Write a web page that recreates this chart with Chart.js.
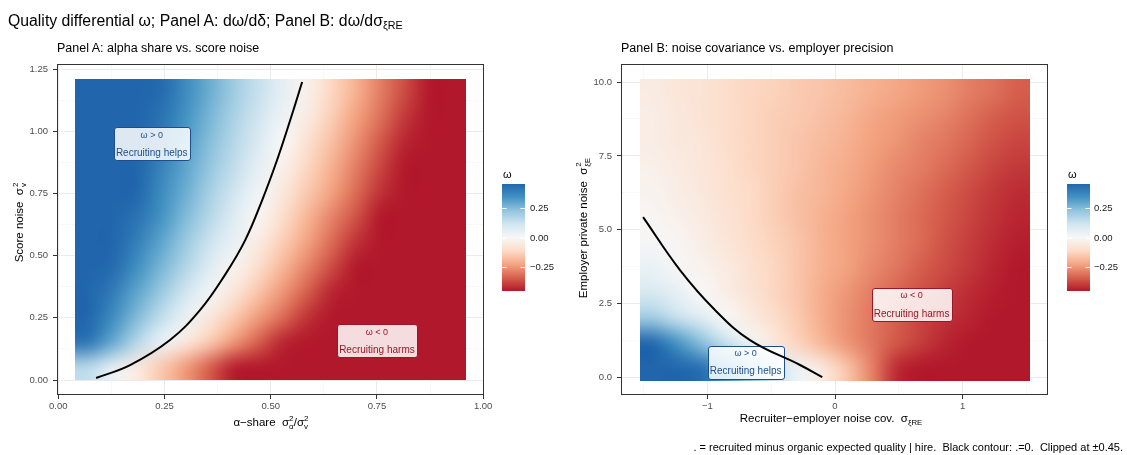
<!DOCTYPE html>
<html>
<head>
<meta charset="utf-8">
<script src="https://cdn.jsdelivr.net/npm/chart.js@4.4.1/dist/chart.umd.min.js"></script>
<style>
  body { margin: 0; background: #fff; font-family: "Liberation Sans", Arial, sans-serif; }
  #page { position: relative; width: 1127px; height: 455px; overflow: hidden; background: #fff; }
  canvas { position: absolute; top: 0; }
  .txt { position: absolute; white-space: pre; color: #000; line-height: 1; }
  .sb { font-size: 0.68em; position: relative; top: 0.35em; }
  .ss { display: inline-block; font-size: 0.7em; line-height: 0.95em; vertical-align: -0.35em; }
  .ss span { display: block; }
  .xt { transform: translateX(-50%); font-size: 11.5px; }
</style>
</head>
<body>
<div id="page">
  <canvas id="panelA" width="560" height="455" style="left:0"></canvas>
  <canvas id="panelB" width="567" height="455" style="left:560px"></canvas>

  <div class="txt" style="left:8px; top:12.5px; font-size:15.8px;">Quality differential ω; Panel A: dω/dδ; Panel B: dω/dσ<span class="sb">ξRE</span></div>
  <div class="txt" style="left:57px; top:42px; font-size:12.5px;">Panel A: alpha share vs. score noise</div>
  <div class="txt" style="left:621px; top:42px; font-size:12.5px;">Panel B: noise covariance vs. employer precision</div>

  <div class="txt xt" style="left:271px; top:415px;">α−share  σ<span class="ss"><span>2</span><span>α</span></span>/σ<span class="ss"><span>2</span><span>v</span></span></div>
  <div class="txt xt" style="left:831px; top:413px;">Recruiter−employer noise cov.  σ<span class="sb">ξRE</span></div>

  <div class="txt" style="right:4px; top:441.7px; font-size:11px;">. = recruited minus organic expected quality | hire.  Black contour: .=0.  Clipped at ±0.45.</div>
</div>

<script>
// ---- data ----

// Panel A grid: alpha share (x) and score noise (y), cell centres
const alphaShare = [0.069, 0.126, 0.184, 0.241, 0.299, 0.356, 0.414, 0.471,
                    0.529, 0.586, 0.644, 0.701, 0.759, 0.816, 0.874, 0.931];
const scoreNoise = [0.050, 0.151, 0.252, 0.353, 0.454, 0.555,
                    0.655, 0.756, 0.857, 0.958, 1.059, 1.160];
// omega, one row per scoreNoise value (bottom row first)
const omegaA = [
  [0.15, 0.05, -0.05, -0.15, -0.24, -0.34, -0.44, -0.45, -0.45, -0.45, -0.45, -0.45, -0.45, -0.45, -0.45, -0.45],
  [0.41, 0.29, 0.16, 0.04, -0.06, -0.15, -0.25, -0.34, -0.43, -0.45, -0.45, -0.45, -0.45, -0.45, -0.45, -0.45],
  [0.45, 0.36, 0.25, 0.14, 0.04, -0.06, -0.15, -0.24, -0.32, -0.41, -0.45, -0.45, -0.45, -0.45, -0.45, -0.45],
  [0.45, 0.40, 0.30, 0.21, 0.11, 0.02, -0.07, -0.16, -0.25, -0.34, -0.43, -0.45, -0.45, -0.45, -0.45, -0.45],
  [0.45, 0.44, 0.35, 0.26, 0.17, 0.07, -0.02, -0.10, -0.19, -0.28, -0.37, -0.45, -0.45, -0.45, -0.45, -0.45],
  [0.45, 0.45, 0.39, 0.30, 0.21, 0.12, 0.04, -0.05, -0.14, -0.23, -0.32, -0.41, -0.45, -0.45, -0.45, -0.45],
  [0.45, 0.45, 0.42, 0.34, 0.25, 0.16, 0.07, -0.01, -0.10, -0.19, -0.28, -0.36, -0.45, -0.45, -0.45, -0.45],
  [0.45, 0.45, 0.45, 0.36, 0.28, 0.19, 0.11, 0.02, -0.06, -0.15, -0.23, -0.32, -0.41, -0.45, -0.45, -0.45],
  [0.45, 0.45, 0.45, 0.38, 0.30, 0.22, 0.14, 0.05, -0.03, -0.12, -0.20, -0.29, -0.38, -0.45, -0.45, -0.45],
  [0.45, 0.45, 0.45, 0.41, 0.32, 0.24, 0.16, 0.08, 0.00, -0.09, -0.17, -0.26, -0.35, -0.43, -0.45, -0.45],
  [0.45, 0.45, 0.45, 0.42, 0.34, 0.26, 0.18, 0.11, 0.03, -0.05, -0.14, -0.23, -0.31, -0.40, -0.45, -0.45],
  [0.45, 0.45, 0.45, 0.44, 0.36, 0.28, 0.20, 0.13, 0.05, -0.03, -0.12, -0.20, -0.29, -0.37, -0.45, -0.45]
];
// omega = 0 contour, panel A
const contourAx = [0.089, 0.169, 0.263, 0.334, 0.392, 0.440, 0.480, 0.515, 0.546, 0.574];
const contourAy = [0.008, 0.060, 0.161, 0.282, 0.422, 0.563, 0.724, 0.885, 1.046, 1.199];

// Panel B grid: recruiter-employer covariance (x) and employer noise (y)
const noiseCov = [-1.434, -1.243, -1.052, -0.861, -0.669, -0.478, -0.287, -0.096,
                  0.096, 0.287, 0.478, 0.669, 0.861, 1.052, 1.243, 1.434];
const employerNoise = [0.325, 1.175, 2.025, 2.875, 3.725, 4.575,
                       5.425, 6.275, 7.125, 7.975, 8.825, 9.675];
const omegaB = [
  [0.45, 0.45, 0.43, 0.33, 0.23, 0.13, 0.03, -0.06, -0.16, -0.28, -0.42, -0.45, -0.45, -0.45, -0.45, -0.45],
  [0.45, 0.34, 0.24, 0.13, 0.03, -0.06, -0.13, -0.19, -0.25, -0.30, -0.35, -0.39, -0.43, -0.45, -0.45, -0.45],
  [0.20, 0.13, 0.07, 0.00, -0.05, -0.10, -0.15, -0.21, -0.26, -0.30, -0.34, -0.38, -0.41, -0.43, -0.45, -0.45],
  [0.09, 0.05, 0.00, -0.04, -0.08, -0.12, -0.16, -0.21, -0.25, -0.29, -0.33, -0.36, -0.39, -0.42, -0.44, -0.45],
  [0.04, 0.01, -0.02, -0.05, -0.09, -0.12, -0.16, -0.20, -0.23, -0.27, -0.30, -0.34, -0.37, -0.40, -0.43, -0.45],
  [0.01, -0.01, -0.04, -0.07, -0.10, -0.13, -0.16, -0.20, -0.23, -0.26, -0.29, -0.32, -0.36, -0.39, -0.42, -0.44],
  [-0.01, -0.03, -0.05, -0.08, -0.11, -0.14, -0.17, -0.20, -0.23, -0.26, -0.29, -0.32, -0.35, -0.38, -0.41, -0.43],
  [-0.02, -0.04, -0.06, -0.09, -0.11, -0.14, -0.17, -0.19, -0.22, -0.25, -0.28, -0.31, -0.34, -0.37, -0.40, -0.42],
  [-0.03, -0.05, -0.07, -0.09, -0.12, -0.14, -0.16, -0.19, -0.21, -0.24, -0.27, -0.29, -0.32, -0.35, -0.38, -0.40],
  [-0.04, -0.06, -0.07, -0.10, -0.12, -0.14, -0.16, -0.18, -0.20, -0.23, -0.25, -0.28, -0.30, -0.33, -0.36, -0.38],
  [-0.04, -0.06, -0.08, -0.10, -0.12, -0.14, -0.15, -0.17, -0.19, -0.22, -0.24, -0.26, -0.28, -0.31, -0.34, -0.36],
  [-0.05, -0.07, -0.08, -0.10, -0.12, -0.13, -0.15, -0.16, -0.18, -0.20, -0.22, -0.24, -0.26, -0.29, -0.31, -0.34]
];
const contourBx = [-1.503, -1.214, -0.940, -0.666, -0.274, -0.100];
const contourBy = [5.43, 3.64, 2.29, 1.27, 0.43, 0.02];

// axis ticks
const alphaMajor = [0, 0.25, 0.5, 0.75, 1];
const alphaLabels = ['0.00', '0.25', '0.50', '0.75', '1.00'];
const alphaMinor = [0.125, 0.375, 0.625, 0.875];
const scoreMajor = [0, 0.25, 0.5, 0.75, 1, 1.25];
const scoreLabels = ['0.00', '0.25', '0.50', '0.75', '1.00', '1.25'];
const scoreMinor = [0.125, 0.375, 0.625, 0.875, 1.125];
const covMajor = [-1, 0, 1];
const covLabels = ['\u22121', '0', '1'];
const covMinor = [-1.5, -0.5, 0.5, 1.5];
const empMajor = [0, 2.5, 5, 7.5, 10];
const empLabels = ['0.0', '2.5', '5.0', '7.5', '10.0'];
const empMinor = [1.25, 3.75, 6.25, 8.75];

// colour bar
const barTicks = [0.25, 0, -0.25];
const barLabels = ['0.25', '0.00', '\u22120.25'];
const omegaLimit = 0.45;

// region labels
const labelsA = [
  { x: 0.22, y: 0.95, top: 'ω > 0', bottom: 'Recruiting helps', color: '#1d4f8f' },
  { x: 0.75, y: 0.157, top: 'ω < 0', bottom: 'Recruiting harms', color: '#9b1626' }
];
const labelsB = [
  { x: 0.60, y: 2.48, top: 'ω < 0', bottom: 'Recruiting harms', color: '#9b1626' },
  { x: -0.70, y: 0.53, top: 'ω > 0', bottom: 'Recruiting helps', color: '#1d4f8f' }
];

// RdBu
const paletteValues = [-0.45, -0.3375, -0.225, -0.1125, 0, 0.1125, 0.225, 0.3375, 0.45];
const paletteColors = ['#b2182b', '#d6604d', '#f4a582', '#fddbc7', '#f7f7f7',
                       '#d1e5f0', '#92c5de', '#4393c3', '#2166ac'];

const FONT = '"Liberation Sans", Arial, sans-serif';
Chart.defaults.font.family = FONT;

function hexToRgb(h) {
  return [parseInt(h.slice(1, 3), 16), parseInt(h.slice(3, 5), 16), parseInt(h.slice(5, 7), 16)];
}
const paletteRgb = paletteColors.map(hexToRgb);

function omegaColor(v) {
  v = Math.max(-omegaLimit, Math.min(omegaLimit, v));
  for (let i = 0; i < paletteValues.length - 1; i++) {
    if (v <= paletteValues[i + 1]) {
      let t = (v - paletteValues[i]) / (paletteValues[i + 1] - paletteValues[i]);
      let a = paletteRgb[i], b = paletteRgb[i + 1];
      return [0, 1, 2].map(k => Math.round(a[k] + (b[k] - a[k]) * t));
    }
  }
  return paletteRgb[paletteRgb.length - 1];
}

function heatmapPlugin(xs, ys, z, labels) {
  return {
    id: 'heatmap',
    beforeDatasetsDraw: function(chart) {
      let ctx = chart.ctx;
      let sx = chart.scales.x, sy = chart.scales.y;
      let nx = xs.length, ny = ys.length;

      let off = document.createElement('canvas');
      off.width = nx;
      off.height = ny;
      let octx = off.getContext('2d');
      let img = octx.createImageData(nx, ny);
      for (let j = 0; j < ny; j++) {
        for (let i = 0; i < nx; i++) {
          let c = omegaColor(z[j][i]);
          let p = ((ny - 1 - j) * nx + i) * 4;
          img.data[p] = c[0]; img.data[p + 1] = c[1]; img.data[p + 2] = c[2]; img.data[p + 3] = 255;
        }
      }
      octx.putImageData(img, 0, 0);

      let dx = (xs[nx - 1] - xs[0]) / (nx - 1);
      let dy = (ys[ny - 1] - ys[0]) / (ny - 1);
      let left = sx.getPixelForValue(xs[0] - dx / 2);
      let right = sx.getPixelForValue(xs[nx - 1] + dx / 2);
      let top = sy.getPixelForValue(ys[ny - 1] + dy / 2);
      let bottom = sy.getPixelForValue(ys[0] - dy / 2);

      ctx.save();
      ctx.imageSmoothingEnabled = true;
      ctx.imageSmoothingQuality = 'high';
      ctx.drawImage(off, left, top, right - left, bottom - top);

      // region labels
      labels.forEach(function(lb) {
        let cx = sx.getPixelForValue(lb.x), cy = sy.getPixelForValue(lb.y);
        ctx.font = '10px ' + FONT;
        let w = Math.round(ctx.measureText(lb.bottom).width + 4);
        let h = 33;
        let x0 = Math.round(cx - w / 2) + 0.5, y0 = Math.round(cy - h / 2) + 0.5;
        ctx.beginPath();
        ctx.roundRect(x0, y0, w, h, 2.5);
        ctx.fillStyle = 'rgba(255,255,255,0.85)';
        ctx.fill();
        ctx.strokeStyle = lb.color;
        ctx.lineWidth = 1;
        ctx.stroke();
        ctx.fillStyle = lb.color;
        ctx.textAlign = 'center';
        ctx.textBaseline = 'middle';
        ctx.font = '9px ' + FONT;
        ctx.fillText(lb.top, cx, cy - 8.5);
        ctx.font = '10px ' + FONT;
        ctx.fillText(lb.bottom, cx, cy + 9.5);
      });
      ctx.restore();
    },
    afterDraw: function(chart) {
      let ctx = chart.ctx, a = chart.chartArea;
      ctx.save();
      ctx.strokeStyle = '#333333';
      ctx.lineWidth = 1;
      ctx.strokeRect(Math.round(a.left) + 0.5, Math.round(a.top) + 0.5,
                     Math.round(a.right - a.left) - 1, Math.round(a.bottom - a.top) - 1);
      ctx.restore();
    }
  };
}

// rotated y axis title with a stacked superscript / subscript after it
function yTitlePlugin(baseX, centerY, mainText, supText, subText) {
  return {
    id: 'ytitle',
    afterDraw: function(chart) {
      let ctx = chart.ctx;
      ctx.save();
      ctx.translate(baseX, centerY);
      ctx.rotate(-Math.PI / 2);
      ctx.fillStyle = '#000';
      ctx.textAlign = 'left';
      ctx.textBaseline = 'alphabetic';
      ctx.font = '11.5px ' + FONT;
      let wMain = ctx.measureText(mainText).width;
      ctx.font = '8px ' + FONT;
      let wScript = Math.max(ctx.measureText(supText).width, ctx.measureText(subText).width);
      let x = -(wMain + 1 + wScript) / 2;
      ctx.font = '11.5px ' + FONT;
      ctx.fillText(mainText, x, 0);
      ctx.font = '8px ' + FONT;
      ctx.fillText(supText, x + wMain + 1, -5.5);
      ctx.fillText(subText, x + wMain + 1, 3);
      ctx.restore();
    }
  };
}

function colourBarPlugin(barLeft, labelLeft) {
  return {
    id: 'colourbar',
    afterDraw: function(chart) {
      let ctx = chart.ctx;
      let barTop = 184, barBottom = 291, barW = 23;
      let valToY = v => barTop + (omegaLimit - v) / (2 * omegaLimit) * (barBottom - barTop);
      ctx.save();
      let g = ctx.createLinearGradient(0, barTop, 0, barBottom);
      for (let i = 0; i < paletteValues.length; i++) {
        g.addColorStop((omegaLimit - paletteValues[i]) / (2 * omegaLimit), paletteColors[i]);
      }
      ctx.fillStyle = g;
      ctx.fillRect(barLeft, barTop, barW, barBottom - barTop);

      ctx.fillStyle = '#000';
      ctx.font = '11px ' + FONT;
      ctx.textAlign = 'left';
      ctx.textBaseline = 'alphabetic';
      ctx.fillText('ω', barLeft + 1, 177.5);

      ctx.strokeStyle = '#ffffff';
      ctx.lineWidth = 1;
      ctx.font = '9.5px ' + FONT;
      ctx.textBaseline = 'middle';
      for (let i = 0; i < barTicks.length; i++) {
        let y = Math.round(valToY(barTicks[i])) + 0.5;
        ctx.beginPath();
        ctx.moveTo(barLeft, y); ctx.lineTo(barLeft + 4.5, y);
        ctx.moveTo(barLeft + barW - 4.5, y); ctx.lineTo(barLeft + barW, y);
        ctx.stroke();
        ctx.fillStyle = '#1a1a1a';
        ctx.fillText(barLabels[i], labelLeft, y);
      }
      ctx.restore();
    }
  };
}

function axisOptions(min, max, majors, labels, minors, isX, size) {
  let isMajor = v => majors.indexOf(v) >= 0;
  return {
    type: 'linear',
    min: min,
    max: max,
    border: { display: false },
    afterBuildTicks: function(scale) {
      scale.ticks = majors.concat(minors).sort((a, b) => a - b).map(v => ({ value: v }));
    },
    afterFit: function(scale) {
      if (isX) { scale.height = size; } else { scale.width = size; }
    },
    grid: {
      color: c => (c.tick && isMajor(c.tick.value)) ? '#ebebeb' : '#f3f3f3',
      lineWidth: c => (c.tick && isMajor(c.tick.value)) ? 1 : 0.6,
      tickColor: c => (c.tick && isMajor(c.tick.value)) ? '#333333' : 'rgba(0,0,0,0)',
      tickWidth: 1,
      tickLength: 4,
      drawTicks: true
    },
    ticks: {
      autoSkip: false,
      maxRotation: 0,
      color: '#4d4d4d',
      font: { size: 9.5, family: FONT },
      padding: isX ? 2 : 5,
      callback: function(value) {
        let i = majors.indexOf(value);
        return i >= 0 ? labels[i] : '';
      }
    }
  };
}

function contourPoints(xs, ys) {
  return xs.map((x, i) => ({ x: x, y: ys[i] }));
}

new Chart(document.getElementById('panelA'), {
  type: 'scatter',
  data: {
    datasets: [{
      data: contourPoints(contourAx, contourAy),
      showLine: true,
      borderColor: '#000000',
      borderWidth: 2,
      pointRadius: 0,
      tension: 0.4,
      fill: false
    }]
  },
  options: {
    responsive: false,
    animation: false,
    layout: { padding: { left: 0, top: 64, right: 76, bottom: 30 } },
    plugins: { legend: { display: false }, tooltip: { enabled: false } },
    scales: {
      x: axisOptions(-0.003, 1.002, alphaMajor, alphaLabels, alphaMinor, true, 30),
      y: axisOptions(-0.0603, 1.2714, scoreMajor, scoreLabels, scoreMinor, false, 57)
    }
  },
  plugins: [heatmapPlugin(alphaShare, scoreNoise, omegaA, labelsA), colourBarPlugin(502, 530),
            yTitlePlugin(23.3, 222.5, 'Score noise  σ', '2', 'v')]
});

new Chart(document.getElementById('panelB'), {
  type: 'scatter',
  data: {
    datasets: [{
      data: contourPoints(contourBx, contourBy),
      showLine: true,
      borderColor: '#000000',
      borderWidth: 2,
      pointRadius: 0,
      tension: 0.4,
      fill: false
    }]
  },
  options: {
    responsive: false,
    animation: false,
    layout: { padding: { left: 0, top: 64, right: 79, bottom: 30 } },
    plugins: { legend: { display: false }, tooltip: { enabled: false } },
    scales: {
      x: axisOptions(-1.676, 1.668, covMajor, covLabels, covMinor, true, 30),
      y: axisOptions(-0.585, 10.61, empMajor, empLabels, empMinor, false, 61)
    }
  },
  plugins: [heatmapPlugin(noiseCov, employerNoise, omegaB, labelsB), colourBarPlugin(507, 534),
            yTitlePlugin(26.7, 228, 'Employer private noise  σ', '2', 'ξE')]
});
</script>
</body>
</html>
